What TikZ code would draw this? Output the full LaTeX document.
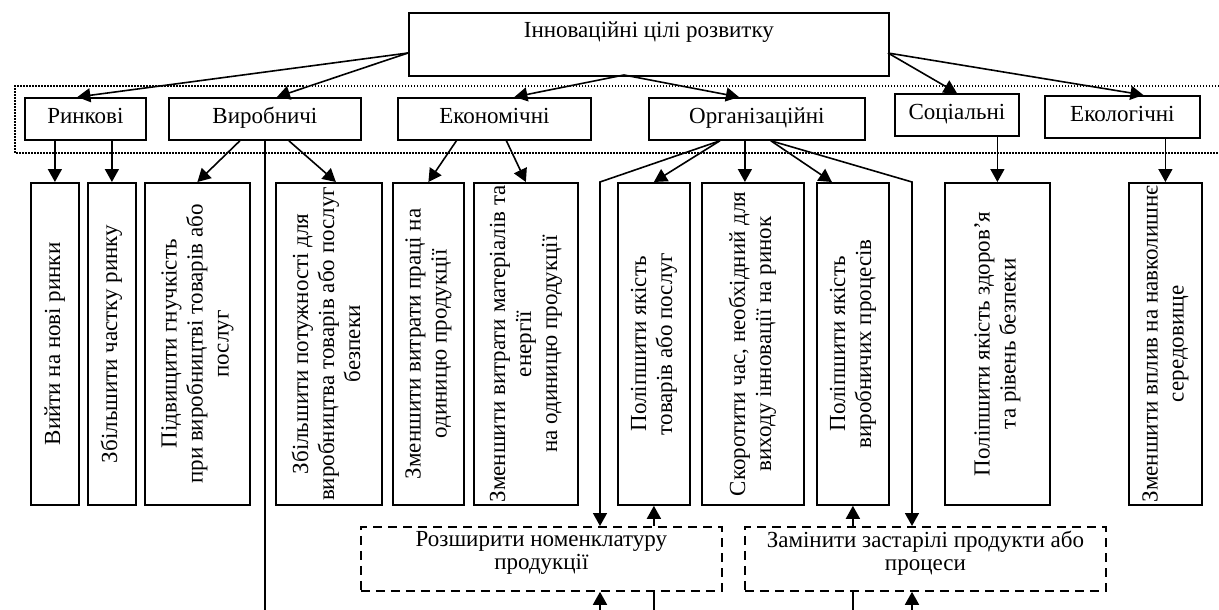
\documentclass[tikz,border=0pt]{standalone}
\usepackage{fontspec}
\setmainfont{Liberation Serif}
\usetikzlibrary{arrows.meta,calc}
\tikzset{
    goal/.style={draw,line width=1.8pt,rectangle,minimum height=42pt,inner sep=2pt,anchor=north west,
        text height=15pt,text depth=5pt},
    vgoal/.style={draw,line width=1.8pt,rectangle,minimum height=322pt,inner sep=2pt,anchor=north west},
    wish/.style={draw,line width=1.8pt,dash pattern=on 9pt off 6pt,rectangle,minimum width=361pt,minimum height=64pt,
        inner sep=4pt,anchor=north west,align=center,text depth=16pt,font=\fontsize{23}{23}\selectfont},
    arr/.style={line width=1.6pt,-{Triangle[length=13pt,width=14pt]}},
    ln/.style={line width=1.6pt},
}
\newcommand{\vtxt}[1]{\rotatebox{90}{\begin{tabular}{@{}c@{}}#1\end{tabular}}}
\begin{document}
\begin{tikzpicture}[x=1pt,y=-1pt,font=\fontsize{23}{26}\selectfont]
        \useasboundingbox (0,0) rectangle (1219,610);
        %% Dotted band
        \draw[line width=1.4pt,dash pattern=on 1.5pt off 1.5pt] (1219,86) -- (15,86) -- (15,153) -- (1219,153);
        %% Main goal
        \node[draw,line width=1.8pt,rectangle,minimum width=480pt,minimum height=63pt,inner sep=0pt,
            text height=15pt,text depth=28pt,anchor=north west] (T) at (408,12) {Інноваційні цілі розвитку};
        %% Groups
        \node[goal,minimum width=121pt] (R) at (24,97) {Ринкові};
        \node[goal,minimum width=192pt] (V) at (168,97) {Виробничі};
        \node[goal,minimum width=193pt] (E) at (397,97) {Економічні};
        \node[goal,minimum width=216pt] (O) at (648,97) {Організаційні};
        \node[goal,minimum width=124pt] (S) at (894,93) {Соціальні};
        \node[goal,minimum width=155pt] (K) at (1044,95) {Екологічні};
        %% Goals
        \node[vgoal,minimum width=48pt] (R1) at (30,182) {\vtxt{Вийти на нові ринки}};
        \node[vgoal,minimum width=48pt] (R2) at (87,182) {\vtxt{Збільшити частку ринку}};
        \node[vgoal,minimum width=105pt] (V1) at (144,182) {\vtxt{Підвищити гнучкість\\при виробництві товарів або\\послуг}};
        \node[vgoal,minimum width=106pt] (V2) at (275,182) {\vtxt{Збільшити потужності для\\виробництва товарів або послуг\\безпеки}};
        \node[vgoal,minimum width=71pt] (E1) at (392,182) {\vtxt{Зменшити витрати праці на\\одиницю продукції}};
        \node[vgoal,minimum width=104pt] (E2) at (473,182) {\vtxt{Зменшити витрати матеріалів та\\енергії\\на одиницю продукції}};
        \node[vgoal,minimum width=72pt] (O1) at (617,182) {\vtxt{Поліпшити якість\\товарів або послуг}};
        \node[vgoal,minimum width=102pt] (O2) at (701,182) {\vtxt{Скоротити час, необхідний для\\виходу інновації на ринок}};
        \node[vgoal,minimum width=72pt] (O3) at (816,182) {\vtxt{Поліпшити якість\\виробничих процесів}};
        \node[vgoal,minimum width=105pt] (S1) at (944,182) {\vtxt{Поліпшити якість здоров’я\\та рівень безпеки}};
        \node[vgoal,minimum width=73pt] (K1) at (1128,182) {\vtxt{Зменшити вплив на навколишнє\\середовище}};
        %% Dashed goals
        \node[wish] (N1) at (360,526) {Розширити номенклатуру\\продукції};
        \node[wish] (N2) at (744,526) {Замінити застарілі продукти або\\процеси};
        %% Points
        \coordinate (TL) at (408,53);
        \coordinate (TB) at (624,75);
        \coordinate (TR) at (888,53);
        \coordinate (OL) at ($(O.south)+(-37,0)$);
        \coordinate (OR) at ($(O.south)+(14,0)$);
        \coordinate (OLB) at (600,182);
        \coordinate (ORB) at (912,182);
        \coordinate (B1) at (600,612);
        \coordinate (B4) at (912,612);
        %% From main goal
        \draw[arr] (TL) -- ($(R.north)+(-8,0)$);
        \draw[arr] (TL) -- ($(V.north)+(12,0)$);
        \draw[arr] (TB) -- ($(E.north)+(20,0)$);
        \draw[arr] (TB) -- ($(O.north)+(-18,0)$);
        \draw[arr] (TR) -- (S.north);
        \draw[arr] (TR) -- ($(K.north)+(21,0)$);
        %% From groups
        \draw[arr] (R.south -| R1.north) -- (R1.north);
        \draw[arr] (R.south -| R2.north) -- (R2.north);
        \draw[arr] ($(V.south)+(-25,0)$) -- (V1.north);
        \draw[ln] (V.south) -- (V.south |- B1);
        \draw[arr] ($(V.south)+(24,0)$) -- ($(V2.north)+(7,0)$);
        \draw[arr] ($(E.south)+(-38,0)$) -- (E1.north);
        \draw[arr] ($(E.south)+(12,0)$) -- (E2.north);
        \draw[arr] (OL) -- (O1.north);
        \draw[arr] (OL) -- (OLB) -- (OLB |- N1.north);
        \draw[arr] ($(O.south)+(-12,0)$) -- ($(O2.north)+(-8,0)$);
        \draw[arr] (OR) -- ($(O3.north)+(-21,0)$);
        \draw[arr] (OR) -- (ORB) -- (ORB |- N2.north);
        \draw[arr] (S.south -| S1.north) -- (S1.north);
        \draw[arr] (K.south -| K1.north) -- (K1.north);
        %% Dashed goals links
        \draw[arr] (N1.north -| O1.south) -- (O1.south);
        \draw[arr] (N2.north -| O3.south) -- (O3.south);
        \draw[arr] (B1) -- (B1 |- N1.south);
        \draw[ln] (N1.south -| O1.south) -- (O1.south |- B1);
        \draw[ln] (N2.south -| O3.south) -- (O3.south |- B1);
        \draw[arr] (B4) -- (B4 |- N2.south);
\end{tikzpicture}
\end{document}
